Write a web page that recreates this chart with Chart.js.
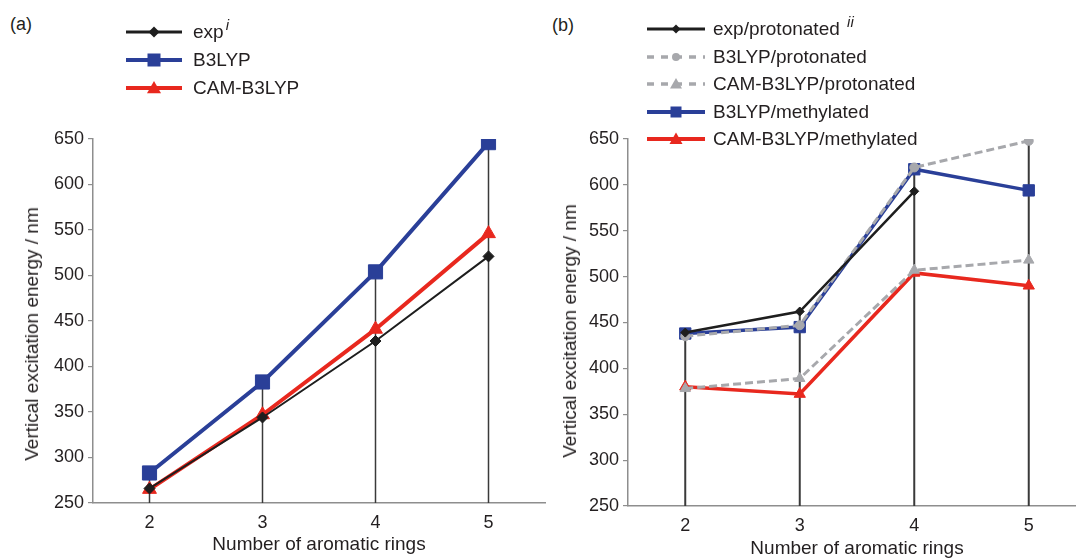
<!DOCTYPE html>
<html>
<head>
<meta charset="utf-8">
<script src="https://cdn.jsdelivr.net/npm/chart.js@4.4.1/dist/chart.umd.min.js"></script>
<style>
  html, body { margin: 0; padding: 0; background: #fff; }
  body { width: 1076px; height: 558px; position: relative; overflow: hidden;
         font-family: "Liberation Sans", Arial, Helvetica, sans-serif; color: #231f20; }
  .box { position: absolute; top: 0; }
  .tag { position: absolute; font-size: 18px; line-height: 20px; }
  .ytitle { position: absolute; font-size: 19px; white-space: nowrap;
            transform: translate(-50%, -50%) rotate(-90deg); }
  .row { position: absolute; height: 20px; line-height: 20px; font-size: 19px; white-space: nowrap; }
  .row svg { position: absolute; top: 0; }
  .row span { position: absolute; top: 0; }
  .row sup { font-style: italic; font-size: 15px; vertical-align: 0; position: relative; top: -8px; margin-left: 2px; }
</style>
</head>
<body>
<div class="tag" style="left:10px;top:14px">(a)</div>
<div class="tag" style="left:552px;top:15px">(b)</div>

<div class="box" style="left:0;width:556px;height:558px"><canvas id="chartA" width="556" height="558"></canvas></div>
<div class="box" style="left:540px;width:556px;height:562px"><canvas id="chartB" width="556" height="562"></canvas></div>

<div class="ytitle" style="left:32px;top:334px">Vertical excitation energy / nm</div>
<div class="ytitle" style="left:570px;top:331px">Vertical excitation energy / nm</div>

<div id="legendA"></div>
<div id="legendB"></div>

<script>
// x categories and y range
const rings = ['2', '3', '4', '5'];
const yMin = 250, yMax = 650, yStep = 50;

// (a) values, nm
const expA = [266, 344, 428, 521];
const b3lypA = [283, 383, 504, 646];
const camA = [265, 347, 441, 546];

// (b) values, nm (exp has no value for 5 rings)
const expProt = [439, 462, 593, null];
const b3lypProt = [435, 447, 619, 648];
const camProt = [378, 389, 507, 518];
const b3lypMeth = [438, 445, 617, 594];
const camMeth = [380, 372, 504, 490];

const BLACK = '#1e1e1e', BLUE = '#2a3f98', RED = '#e8281e', GREY = '#a7a8ac';
const FONT = '"Liberation Sans", Arial, Helvetica, sans-serif';

// vertical lines from the x axis up to the highest point of each category
const dropLines = {
  id: 'dropLines',
  beforeDatasetsDraw(chart, args, opts) {
    const {ctx, scales: {x, y}} = chart;
    ctx.save();
    ctx.strokeStyle = opts.color;
    ctx.lineWidth = opts.width;
    chart.data.labels.forEach((lab, i) => {
      const vals = chart.data.datasets.map(d => d.data[i]).filter(v => v != null);
      const px = x.getPixelForValue(i);
      ctx.beginPath();
      ctx.moveTo(px, y.getPixelForValue(yMin));
      ctx.lineTo(px, y.getPixelForValue(Math.max(...vals)));
      ctx.stroke();
    });
    ctx.restore();
  }
};

function series(data, color, width, style, radius, dash) {
  return {
    data: data,
    borderColor: color,
    backgroundColor: color,
    borderWidth: width,
    borderDash: dash || [],
    pointStyle: style,
    pointRadius: radius,
    pointBorderWidth: 1,
    pointBorderColor: color,
    pointBackgroundColor: color,
    spanGaps: false
  };
}

function makeOptions(yWidth, xHeight, padRight, dropWidth) {
  return {
    responsive: false,
    animation: false,
    layout: { padding: { top: 139, right: padRight, left: 0, bottom: 0 } },
    plugins: {
      legend: { display: false },
      tooltip: { enabled: false },
      dropLines: { color: '#3a3a3a', width: dropWidth }
    },
    scales: {
      x: {
        offset: true,
        grid: { display: false },
        border: { color: '#8e8e8e', width: 1.5 },
        ticks: { color: '#231f20', padding: 1, font: { family: FONT, size: 18 } },
        title: { display: true, text: 'Number of aromatic rings', color: '#231f20',
                 padding: { top: 0, bottom: 2 }, font: { family: FONT, size: 19 } },
        afterFit: s => { s.height = xHeight; }
      },
      y: {
        min: yMin,
        max: yMax,
        grid: { drawOnChartArea: false, drawTicks: true, tickLength: 5, color: '#8e8e8e', lineWidth: 1.2 },
        border: { color: '#8e8e8e', width: 1.5 },
        ticks: { stepSize: yStep, color: '#231f20', padding: 4, font: { family: FONT, size: 18 } },
        afterFit: s => { s.width = yWidth; }
      }
    }
  };
}

new Chart(document.getElementById('chartA'), {
  type: 'line',
  data: {
    labels: rings,
    datasets: [
      series(expA, BLACK, 2, 'rectRot', 5.5),
      series(b3lypA, BLUE, 4, 'rect', 10),
      series(camA, RED, 4, 'triangle', 8)
    ]
  },
  options: makeOptions(93, 55, 7, 1.5),
  plugins: [dropLines]
});

new Chart(document.getElementById('chartB'), {
  type: 'line',
  data: {
    labels: rings,
    datasets: [
      series(expProt, BLACK, 2.5, 'rectRot', 4.5),
      series(b3lypProt, GREY, 3, 'circle', 4.5, [8, 4]),
      series(camProt, GREY, 3, 'triangle', 6, [8, 4]),
      series(b3lypMeth, BLUE, 3.5, 'rect', 8),
      series(camMeth, RED, 3.5, 'triangle', 6.5)
    ]
  },
  options: makeOptions(88, 56, 10, 2),
  plugins: [dropLines]
});

// legends: line sample with marker, then the label
function marker(shape, color, cx, cy, r) {
  if (shape === 'diamond') return `<polygon points="${cx},${cy - r} ${cx + r},${cy} ${cx},${cy + r} ${cx - r},${cy}" fill="${color}"/>`;
  if (shape === 'square') return `<rect x="${cx - r}" y="${cy - r}" width="${2 * r}" height="${2 * r}" fill="${color}"/>`;
  if (shape === 'triangle') return `<polygon points="${cx},${cy - r} ${cx + r},${cy + r * 0.75} ${cx - r},${cy + r * 0.75}" fill="${color}"/>`;
  return `<circle cx="${cx}" cy="${cy}" r="${r}" fill="${color}"/>`;
}

function legend(el, left, lineW, gap, rows) {
  el.innerHTML = rows.map(r => {
    const dash = r.dash ? ` stroke-dasharray="${r.dash}"` : '';
    return `<div class="row" style="left:${left}px;top:${r.y - 10}px">` +
      `<svg width="${lineW}" height="20"><line x1="0" y1="10" x2="${lineW}" y2="10" stroke="${r.color}" stroke-width="${r.w}"${dash}/>` +
      marker(r.shape, r.color, lineW / 2, 10, r.r) + `</svg>` +
      `<span style="left:${lineW + gap}px">${r.text}</span></div>`;
  }).join('');
}

legend(document.getElementById('legendA'), 126, 56, 11, [
  { y: 32, text: 'exp<sup>i</sup>', color: BLACK, w: 3, shape: 'diamond', r: 5.5 },
  { y: 60, text: 'B3LYP', color: BLUE, w: 4, shape: 'square', r: 6.5 },
  { y: 88, text: 'CAM-B3LYP', color: RED, w: 4, shape: 'triangle', r: 7 }
]);

legend(document.getElementById('legendB'), 647, 58, 8, [
  { y: 29, text: 'exp/protonated <sup>ii</sup>', color: BLACK, w: 3, shape: 'diamond', r: 4.5 },
  { y: 57, text: 'B3LYP/protonated', color: GREY, w: 3.5, shape: 'circle', r: 4, dash: '7 7' },
  { y: 84, text: 'CAM-B3LYP/protonated', color: GREY, w: 3.5, shape: 'triangle', r: 6, dash: '7 7' },
  { y: 112, text: 'B3LYP/methylated', color: BLUE, w: 4, shape: 'square', r: 5.5 },
  { y: 139, text: 'CAM-B3LYP/methylated', color: RED, w: 4, shape: 'triangle', r: 6.5 }
]);
</script>
</body>
</html>
